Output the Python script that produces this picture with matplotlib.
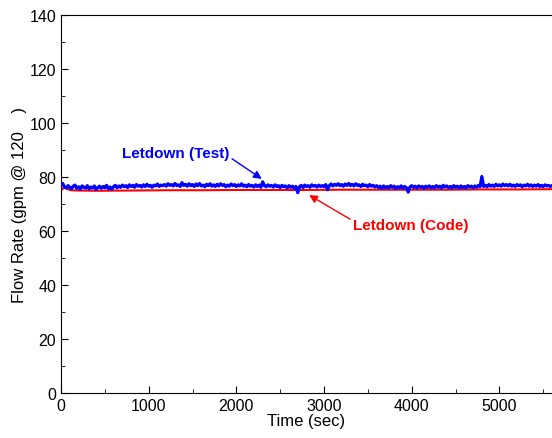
import matplotlib.pyplot as plt
import matplotlib.ticker as mticker
import numpy as np

plt.rcParams["font.family"] = ["Liberation Sans", "DejaVu Sans"]

# Letdown (Test): measured flow, one sample every 20 s
test_time = np.arange(0, 5601, 20)
test_flow = [
    76.9, 77.6, 76.3, 75.9, 76.8, 76.1, 75.7, 76.6, 77.0, 75.8, 76.4, 75.5, 76.7, 76.2, 75.9,
    76.8, 75.6, 76.3, 75.9, 76.7, 75.4, 76.1, 76.6, 75.8, 76.5, 76.0, 76.9, 75.7, 76.3, 75.4,
    76.5, 76.9, 76.0, 76.7, 76.2, 77.0, 76.4, 76.8, 76.1, 77.1, 76.5, 76.9, 76.2, 77.2, 76.6,
    76.9, 76.3, 77.1, 76.5, 77.3, 76.6, 76.9, 76.2, 77.0, 76.7, 77.4, 76.5, 77.0, 76.8, 77.2,
    76.6, 77.5, 76.9, 77.2, 76.7, 77.6, 76.8, 77.1, 76.5, 77.9, 76.9, 77.3, 76.6, 77.5, 76.8,
    77.2, 76.5, 77.4, 76.8, 77.6, 76.7, 77.0, 76.4, 77.3, 76.8, 77.5, 76.6, 77.1, 76.5, 77.3,
    76.7, 77.5, 76.9, 77.2, 76.4, 77.0, 76.6, 77.4, 76.8, 77.2, 76.5, 77.1, 76.7, 77.5, 76.6,
    77.0, 76.4, 77.2, 76.6, 76.9, 76.3, 77.1, 76.5, 77.0, 76.2, 78.2, 76.8, 76.4, 77.1, 76.6,
    76.9, 76.3, 77.1, 76.5, 76.8, 76.1, 76.9, 76.4, 76.7, 75.9, 76.8, 76.2, 76.6, 75.8, 76.5,
    74.2, 76.4, 76.9, 76.1, 77.0, 76.5, 76.8, 76.2, 77.1, 76.6, 76.9, 76.3, 77.0, 76.5, 76.8,
    76.4, 77.2, 75.3, 76.8, 77.4, 76.7, 77.3, 76.9, 77.5, 76.8, 77.2, 76.6, 77.4, 76.9, 77.6,
    76.8, 77.3, 76.7, 77.5, 76.9, 77.1, 76.5, 77.3, 76.8, 77.0, 76.4, 77.2, 76.6, 76.9, 76.3,
    76.8, 76.1, 76.6, 75.8, 76.7, 76.0, 76.5, 75.9, 76.8, 76.2, 76.6, 75.7, 76.4, 76.0, 76.7,
    75.8, 76.5, 76.0, 74.4, 76.3, 76.8, 76.1, 76.6, 75.9, 76.7, 76.2, 76.5, 75.8, 76.6, 76.1,
    76.7, 76.0, 76.5, 75.9, 76.8, 76.2, 76.6, 75.8, 76.9, 76.3, 76.7, 76.0, 76.5, 75.9, 76.8,
    76.2, 76.6, 75.8, 76.7, 76.1, 76.5, 75.9, 76.8, 76.3, 76.6, 76.0, 76.7, 76.2, 76.9, 76.4,
    80.2, 76.5, 76.9, 76.4, 77.2, 76.6, 77.0, 76.5, 77.3, 76.7, 77.1, 76.6, 77.4, 76.8, 77.2,
    76.7, 77.3, 76.6, 77.0, 76.5, 77.2, 76.8, 77.1, 76.4, 77.0, 76.7, 77.3, 76.6, 77.1, 76.5,
    77.0, 76.6, 77.2, 76.5, 76.9, 76.4, 77.1, 76.7, 76.9, 76.5, 76.8,
]

# Letdown (Code): calculated flow
code_time = [0, 40, 80, 120, 200, 400, 800, 1200, 1600, 2000, 2400, 2800, 3200, 3600,
             4000, 4400, 4800, 5200, 5600]
code_flow = [75.0, 76.3, 75.4, 75.1, 75.0, 74.9, 75.0, 75.1, 75.1, 75.2, 75.2, 75.2,
             75.3, 75.3, 75.3, 75.3, 75.4, 75.4, 75.5]

fig = plt.figure(figsize=(5.52, 4.39), dpi=100)
ax = fig.add_axes([0.1105, 0.1025, 0.8895, 0.861])

ax.plot(code_time, code_flow, color="#ff0000", lw=1.5, zorder=2)
ax.plot(test_time, test_flow, color="#0000ff", lw=2.3, zorder=3)

ax.set_xlim(0, 5600)
ax.set_ylim(0, 140)
ax.xaxis.set_major_locator(mticker.MultipleLocator(1000))
ax.xaxis.set_minor_locator(mticker.MultipleLocator(500))
ax.yaxis.set_major_locator(mticker.MultipleLocator(20))
ax.yaxis.set_minor_locator(mticker.MultipleLocator(10))
ax.tick_params(which="both", direction="in", labelsize=11.5, top=False, right=False)
ax.tick_params(which="major", length=5)
ax.tick_params(which="minor", length=3)
ax.spines["right"].set_visible(False)

ax.set_xlabel("Time (sec)", fontsize=12, labelpad=0)
ax.set_ylabel("Flow Rate (gpm @ 120    )", fontsize=12, labelpad=2)

ax.annotate("Letdown (Test)", xy=(2290, 79.3), xytext=(695, 89),
            color="#0000ff", fontsize=11, fontweight="bold", va="center",
            arrowprops=dict(arrowstyle="-|>", color="#0000ff", lw=1,
                            shrinkA=0, shrinkB=0, mutation_scale=12,
                            relpos=(1.0, 0.2)))
ax.annotate("Letdown (Code)", xy=(2830, 73.3), xytext=(3330, 62.2),
            color="#ff0000", fontsize=11, fontweight="bold", va="center",
            arrowprops=dict(arrowstyle="-|>", color="#ff0000", lw=1,
                            shrinkA=0, shrinkB=0, mutation_scale=12,
                            relpos=(0.0, 0.8)))

fig.savefig("out.png", dpi=100)
